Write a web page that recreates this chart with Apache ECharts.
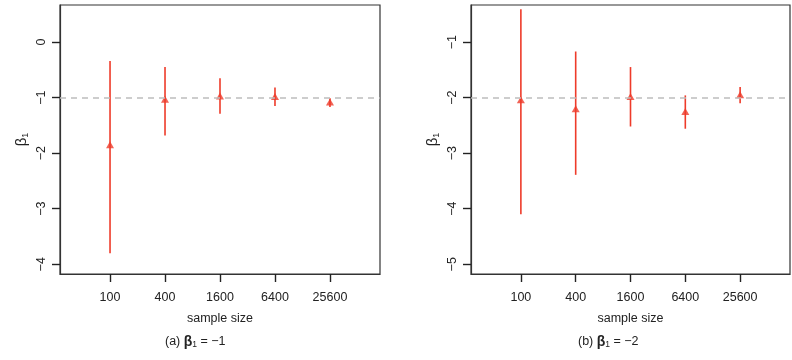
<!DOCTYPE html>
<html>
<head>
<meta charset="utf-8">
<title>beta1 estimates</title>
<script src="https://cdn.jsdelivr.net/npm/echarts@6/dist/echarts.min.js"></script>
<style>
  html, body { margin: 0; padding: 0; background: #fff; }
</style>
</head>
<body>
<div id="main" style="width:792px;height:360px;"></div>
<script type="text/javascript">
// sample sizes on the x axis (positions 1..5)
var sizes = ['100', '400', '1600', '6400', '25600'];

// panel (a): beta1 = -1
var estA  = [-1.85, -1.03, -0.97, -0.98, -1.08];
var lowA  = [-3.80, -1.68, -1.29, -1.15, -1.17];
var highA = [-0.34, -0.45, -0.65, -0.82, -1.01];
var trueA = -1;
var ticksA = [-4, -3, -2, -1, 0];

// panel (b): beta1 = -2
var estB  = [-2.04, -2.20, -1.98, -2.25, -1.95];
var lowB  = [-4.10, -3.39, -2.52, -2.56, -2.10];
var highB = [-0.41, -1.17, -1.45, -1.96, -1.81];
var trueB = -2;
var ticksB = [-5, -4, -3, -2, -1];

var red = '#ee3b2a';
var ink = '#222';
var font = 'Liberation Sans, Arial, sans-serif';
var xPos = [1, 2, 3, 4, 5];

function minus(v) {
    return v < 0 ? '\u2212' + Math.abs(v) : String(v);
}

function xAxisFor(idx) {
    return {
        type: 'value', gridIndex: idx, min: 0.09, max: 5.91,
        name: 'sample size', nameLocation: 'middle', nameGap: 38,
        nameTextStyle: { color: ink, fontSize: 12.5, fontFamily: font },
        axisLine: { show: true, onZero: false, lineStyle: { color: '#333', width: 1.2 } },
        axisTick: { show: true, length: 8, customValues: xPos,
                    lineStyle: { color: '#222', width: 1.4 } },
        axisLabel: { customValues: xPos, margin: 17, color: ink, fontSize: 12.5, fontFamily: font,
                     formatter: function (v) { return sizes[Math.round(v) - 1]; } },
        splitLine: { show: false }
    };
}

function yAxisFor(idx, ticks, lo, hi) {
    return {
        type: 'value', gridIndex: idx, min: lo, max: hi,
        name: '{b|\u03b2}{s|1}', nameLocation: 'middle', nameGap: 30,
        nameTextStyle: { color: ink, fontFamily: font,
            rich: { b: { fontSize: 15, fontFamily: font, color: ink },
                    s: { fontSize: 9, fontFamily: font, color: ink, padding: [7, 0, 0, 0] } } },
        axisLine: { show: true, onZero: false, lineStyle: { color: '#333', width: 1.2 } },
        axisTick: { show: true, length: 8, customValues: ticks,
                    lineStyle: { color: '#222', width: 1.4 } },
        axisLabel: { customValues: ticks, rotate: 90, margin: 12, color: ink, fontSize: 12.5,
                     fontFamily: font, formatter: minus },
        splitLine: { show: false }
    };
}

function barData(low, high) {
    return xPos.map(function (x, i) { return [x, low[i], high[i]]; });
}

function errorSeries(idx, low, high) {
    return {
        type: 'custom', xAxisIndex: idx, yAxisIndex: idx,
        data: barData(low, high),
        renderItem: function (params, api) {
            var p1 = api.coord([api.value(0), api.value(1)]);
            var p2 = api.coord([api.value(0), api.value(2)]);
            return { type: 'line',
                     shape: { x1: p1[0], y1: p1[1], x2: p2[0], y2: p2[1] },
                     style: { stroke: red, lineWidth: 1.6 } };
        },
        z: 3
    };
}

function pointSeries(idx, est, truth) {
    return {
        type: 'scatter', xAxisIndex: idx, yAxisIndex: idx,
        symbol: 'triangle', symbolSize: [8, 7],
        itemStyle: { color: red },
        data: xPos.map(function (x, i) { return [x, est[i]]; }),
        markLine: {
            silent: true, symbol: 'none', label: { show: false },
            lineStyle: { color: '#bdbdbd', type: [6, 5], width: 1.6 },
            data: [{ yAxis: truth }]
        },
        z: 4
    };
}

var captionRich = {
    n: { fontSize: 12.5, fontFamily: font, fill: ink },
    b: { fontSize: 14, fontFamily: font, fill: ink, fontWeight: 'bold' },
    s: { fontSize: 8.5, fontFamily: font, fill: ink, padding: [6, 0, 0, 0] }
};

var myChart = echarts.init(document.getElementById('main'));

myChart.setOption({
    animation: false,
    backgroundColor: '#fff',
    grid: [
        { left: 60, top: 5, width: 320, height: 269, show: true,
          borderColor: '#333', borderWidth: 1.2, backgroundColor: 'transparent' },
        { left: 471, top: 5, width: 319, height: 269, show: true,
          borderColor: '#333', borderWidth: 1.2, backgroundColor: 'transparent' }
    ],
    xAxis: [xAxisFor(0), xAxisFor(1)],
    yAxis: [yAxisFor(0, ticksA, -4.175, 0.667), yAxisFor(1, ticksB, -5.175, -0.333)],
    graphic: [
        { type: 'text', left: 165, top: 335,
          style: { rich: captionRich, text: '{n|(a) }{b|\u03b2}{s|1}{n| = \u22121}' } },
        { type: 'text', left: 578, top: 335,
          style: { rich: captionRich, text: '{n|(b) }{b|\u03b2}{s|1}{n| = \u22122}' } }
    ],
    series: [
        errorSeries(0, lowA, highA),
        pointSeries(0, estA, trueA),
        errorSeries(1, lowB, highB),
        pointSeries(1, estB, trueB)
    ]
});
</script>
</body>
</html>
